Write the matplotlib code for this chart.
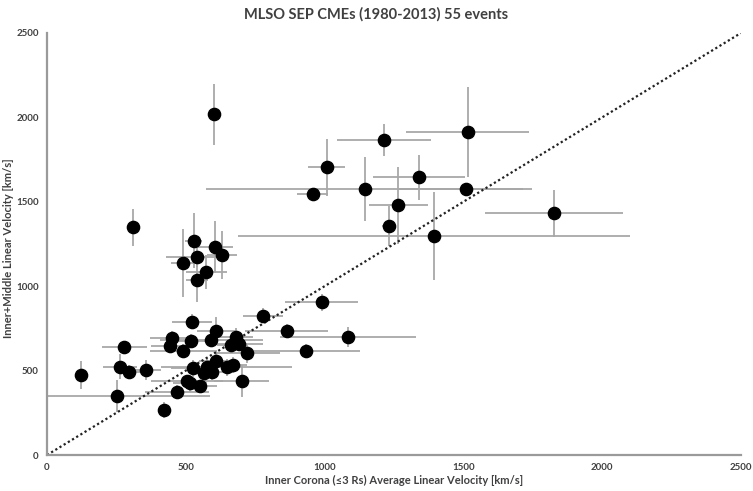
import matplotlib
matplotlib.use("Agg")
import matplotlib.pyplot as plt

# Inner corona (<3 Rs) average linear velocity [km/s]
inner_v = [602, 1515, 1215, 1007, 957, 1144, 1341, 1509, 1266, 1231,
           1394, 1826, 528, 604, 540, 631, 491, 574, 540, 989,
           777, 523, 609, 863, 450, 518, 592, 443, 681, 662,
           693, 1084, 932, 491, 722, 357, 527, 609, 575, 567,
           593, 647, 669, 701, 503, 515, 551, 467, 421, 121,
           251, 279, 263, 295, 310]
# Inner+middle linear velocity [km/s]
inner_middle_v = [2018, 1914, 1866, 1704, 1544, 1574, 1645, 1574, 1479, 1357,
                  1297, 1432, 1270, 1234, 1171, 1183, 1136, 1084, 1037, 904,
                  825, 790, 736, 736, 695, 675, 681, 648, 701, 652,
                  656, 701, 618, 618, 602, 504, 513, 559, 523, 484,
                  493, 519, 533, 440, 436, 425, 407, 375, 267, 474,
                  351, 642, 523, 492, 1350]
# Uncertainties
inner_err = [0, 220, 170, 65, 55, 570, 165, 240, 105, 25,
             705, 248, 30, 65, 110, 55, 45, 75, 40, 133,
             72, 72, 70, 150, 80, 60, 185, 70, 60, 50,
             84, 245, 195, 120, 117, 55, 80, 60, 50, 50,
             50, 237, 50, 100, 130, 60, 60, 115, 20, 0,
             336, 80, 60, 40, 0]
inner_middle_err = [180, 265, 95, 170, 40, 190, 135, 40, 230, 120,
                    260, 140, 165, 155, 60, 143, 200, 100, 130, 50,
                    45, 45, 80, 40, 40, 40, 40, 40, 50, 40,
                    40, 60, 40, 40, 55, 60, 50, 60, 50, 50,
                    50, 50, 50, 95, 40, 50, 40, 40, 45, 82,
                    95, 30, 75, 40, 110]

axis_max = 2500
ticks = [0, 500, 1000, 1500, 2000, 2500]

plt.rcParams["font.family"] = ["Lato", "DejaVu Sans"]
text_color = "#404040"

fig = plt.figure(figsize=(7.53, 4.91), dpi=100)
ax = fig.add_axes([0.0624, 0.0733, 0.9216, 0.8595])

ax.errorbar(inner_v, inner_middle_v, xerr=inner_err, yerr=inner_middle_err,
            fmt="none", ecolor="#a8a8a8", elinewidth=1.3, capsize=0, zorder=2)
ax.plot(inner_v, inner_middle_v, "o", color="black", markersize=8.8,
        linestyle="none", zorder=3)

# one-to-one reference line
ax.plot([0, axis_max], [0, axis_max], color="#222222", linestyle=(0, (1, 1.2)),
        linewidth=1.6, zorder=2.5)

ax.set_xlim(0, axis_max)
ax.set_ylim(0, axis_max)
ax.set_xticks(ticks)
ax.set_yticks(ticks)
ax.tick_params(length=0, labelsize=7, labelcolor=text_color, pad=6)
for lab in ax.get_xticklabels() + ax.get_yticklabels():
    lab.set_fontweight("bold")

for side in ("top", "right"):
    ax.spines[side].set_visible(False)
for side in ("left", "bottom"):
    ax.spines[side].set_color("#9a9a9a")
    ax.spines[side].set_linewidth(1.6)

ax.set_xlabel("Inner Corona (≤3 Rs) Average Linear Velocity [km/s]",
              fontsize=8, fontweight="bold", color=text_color)
ax.xaxis.set_label_coords(0.5, -0.047)
ax.set_ylabel("Inner+Middle Linear Velocity [km/s]",
              fontsize=8, fontweight="bold", color=text_color)
ax.yaxis.set_label_coords(-0.047, 0.49)
fig.suptitle("MLSO SEP CMEs (1980-2013) 55 events", fontsize=10.5,
             fontweight="bold", color=text_color, y=0.985)

fig.savefig("out.png", dpi=100)
